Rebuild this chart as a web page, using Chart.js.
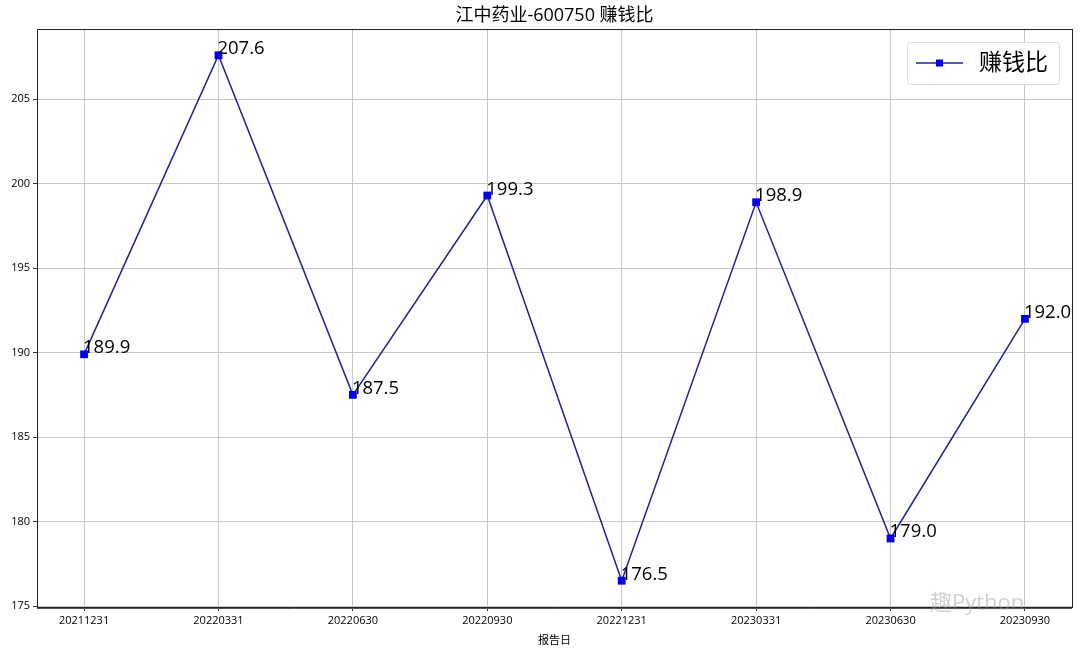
<!DOCTYPE html>
<html>
<head>
<meta charset="utf-8">
<script src="https://cdn.jsdelivr.net/npm/chart.js@4.4.0/dist/chart.umd.min.js"></script>
<style>
html,body{margin:0;padding:0;background:#fff;}
#wrap{width:1080px;height:655px;position:relative;}
</style>
</head>
<body>
<div id="wrap"><canvas id="c" width="1080" height="655"></canvas></div>
<script>
const categories = ['20211231','20220331','20220630','20220930','20221231','20230331','20230630','20230930'];
const values = [189.9, 207.6, 187.5, 199.3, 176.5, 198.9, 179.0, 192.0];
const yTicks = [175, 180, 185, 190, 195, 200, 205];
const seriesName = '赚钱比';
const titleText = '江中药业-600750 赚钱比';
const xTitle = '报告日';

const FONT = '"Open Sans", "Noto Sans CJK SC", sans-serif';
const vmin = Math.min(...values), vmax = Math.max(...values);
const m = (vmax - vmin) * 0.05;

const labelPlugin = {
  id: 'extras',
  afterDatasetsDraw(chart) {
    const ctx = chart.ctx;
    const xs = chart.scales.x, ys = chart.scales.y;
    ctx.save();
    ctx.fillStyle = '#000';
    ctx.font = '18.5px ' + FONT;
    ctx.textAlign = 'left';
    ctx.textBaseline = 'alphabetic';
    values.forEach((v, i) => {
      ctx.fillText(v.toFixed(1), xs.getPixelForValue(i) - 1, ys.getPixelForValue(v) - 1);
    });
    ctx.restore();
  },
  afterDraw(chart) {
    const ctx = chart.ctx;
    const a = chart.chartArea;
    ctx.save();
    // title centered over the plot area
    ctx.fillStyle = '#000';
    ctx.font = '18px ' + FONT;
    ctx.textAlign = 'center'; ctx.textBaseline = 'middle';
    ctx.fillText(titleText, (a.left + a.right) / 2, 16);
    ctx.strokeStyle = '#222';
    ctx.lineWidth = 1;
    ctx.strokeRect(a.left + 0.5, a.top + 0.5, a.right - a.left, a.bottom - a.top);
    ctx.strokeStyle = '#555';
    ctx.beginPath(); ctx.moveTo(a.left, a.bottom + 1.5); ctx.lineTo(a.right, a.bottom + 1.5); ctx.stroke();
    // legend
    const lx = 907, ly = 42, lw = 152, lh = 42;
    ctx.fillStyle = 'rgba(255,255,255,0.85)';
    ctx.strokeStyle = '#dcdcdc';
    ctx.beginPath();
    if (ctx.roundRect) ctx.roundRect(lx + 0.5, ly + 0.5, lw, lh, 3); else ctx.rect(lx + 0.5, ly + 0.5, lw, lh);
    ctx.fill(); ctx.stroke();
    const cy = ly + lh / 2;
    ctx.strokeStyle = '#2020a0'; ctx.lineWidth = 1.5;
    ctx.beginPath(); ctx.moveTo(lx + 9, cy); ctx.lineTo(lx + 56, cy); ctx.stroke();
    ctx.fillStyle = '#0000e6';
    ctx.fillRect(lx + 29, cy - 3.5, 7, 7);
    ctx.fillStyle = '#000';
    ctx.font = '23px ' + FONT;
    ctx.textAlign = 'left'; ctx.textBaseline = 'middle';
    ctx.fillText(seriesName, lx + 72, cy);
    // watermark
    ctx.fillStyle = 'rgba(150,150,150,0.45)';
    ctx.font = '22px ' + FONT;
    ctx.textBaseline = 'middle';
    ctx.fillText('趣Python', 930, 604);
    ctx.restore();
  }
};

new Chart(document.getElementById('c'), {
  type: 'line',
  data: {
    datasets: [{
      label: seriesName,
      data: values.map((v, i) => ({x: i, y: v})),
      borderColor: '#2020a0',
      borderWidth: 1.5,
      pointStyle: 'rect',
      pointRadius: 5.5,
      pointBackgroundColor: '#0000e6',
      pointBorderColor: '#0000e6',
      pointBorderWidth: 0,
      tension: 0,
      fill: false
    }]
  },
  plugins: [labelPlugin],
  options: {
    responsive: false,
    animation: false,
    devicePixelRatio: 1,
    layout: {padding: {left: 0, right: 8, top: 29, bottom: 8}},
    plugins: {
      legend: {display: false},
      tooltip: {enabled: false},
      title: {display: false}
    },
    scales: {
      x: {
        type: 'linear',
        min: -0.35, max: categories.length - 1 + 0.35,
        afterBuildTicks(s) { s.ticks = categories.map((_, i) => ({value: i})); },
        afterFit(s) { s.height = 40; },
        ticks: {
          color: '#000', font: {family: FONT, size: 11}, padding: 3, maxRotation: 0, autoSkip: false,
          callback: (v) => categories[v] ?? ''
        },
        grid: {color: '#c8c8c8', tickColor: '#333', tickLength: 4, lineWidth: 1},
        border: {display: false},
        title: {display: true, text: xTitle, color: '#000', font: {family: FONT, size: 11}, padding: {top: 2, bottom: 0}}
      },
      y: {
        type: 'linear',
        min: vmin - m, max: vmax + m,
        afterBuildTicks(s) { s.ticks = yTicks.map(v => ({value: v})); },
        afterFit(s) { s.width = 37; },
        ticks: {color: '#000', font: {family: FONT, size: 11}, padding: 3},
        grid: {color: '#c8c8c8', tickColor: '#333', tickLength: 4, lineWidth: 1},
        border: {display: false}
      }
    }
  }
});
</script>
</body>
</html>
